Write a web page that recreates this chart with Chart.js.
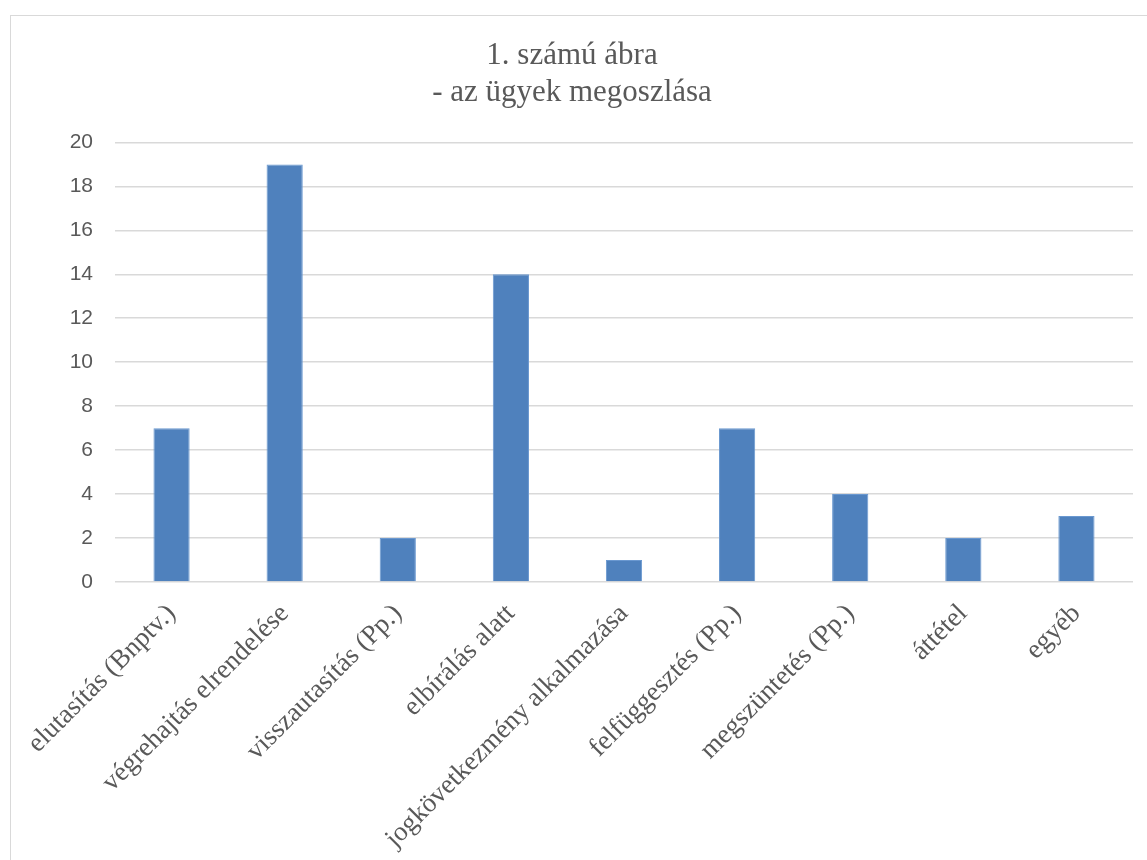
<!DOCTYPE html>
<html>
<head>
<meta charset="utf-8">
<script src="https://cdn.jsdelivr.net/npm/chart.js@4/dist/chart.umd.min.js"></script>
<style>
  html, body { margin: 0; padding: 0; background: #ffffff; overflow: hidden; }
  #wrap { position: absolute; left: 10px; top: 15px; width: 1137px; height: 845px; border: 1px solid #d9d9d9; background: #fff; }
  canvas { display: block; }
</style>
</head>
<body>
<div id="wrap"><canvas id="c"></canvas></div>
<script>
const titleLines = ['1. számú ábra', '- az ügyek megoszlása'];
const categories = [
  'elutasítás (Bnptv.)',
  'végrehajtás elrendelése',
  'visszautasítás (Pp.)',
  'elbírálás alatt',
  'jogkövetkezmény alkalmazása',
  'felfüggesztés (Pp.)',
  'megszüntetés (Pp.)',
  'áttétel',
  'egyéb'
];
const values = [7, 19, 2, 14, 1, 7, 4, 2, 3];
const yMin = 0, yMax = 20, yStep = 2;

new Chart(document.getElementById('c'), {
  type: 'bar',
  data: {
    labels: categories,
    datasets: [{
      data: values,
      backgroundColor: '#4f81bd',
      borderColor: '#6a98d0',
      borderWidth: 1,
      categoryPercentage: 1,
      barPercentage: 0.32
    }]
  },
  options: {
    responsive: true,
    maintainAspectRatio: false,
    devicePixelRatio: 1,
    animation: false,
    layout: { padding: { left: 0, right: 15, top: 0, bottom: 0 } },
    plugins: {
      legend: { display: false },
      tooltip: { enabled: false },
      title: {
        display: true,
        text: titleLines,
        color: '#595959',
        font: { family: 'Liberation Serif', size: 31, weight: 'normal', lineHeight: 1.2 },
        padding: { top: 21, bottom: 31 }
      }
    },
    scales: {
      x: {
        grid: { display: false },
        border: { display: false },
        ticks: {
          color: '#595959',
          font: { family: 'Liberation Serif', size: 27 },
          maxRotation: 45,
          minRotation: 45,
          autoSkip: false,
          padding: 8
        },
        afterFit: (s) => { s.height = 279; }
      },
      y: {
        min: yMin,
        max: yMax,
        border: { display: false },
        grid: { color: '#d9d9d9', lineWidth: 1.5, drawTicks: false },
        ticks: {
          stepSize: yStep,
          color: '#595959',
          font: { family: 'Liberation Sans', size: 21 },
          padding: 22
        },
        afterFit: (s) => { s.width = 104; }
      }
    }
  }
});
</script>
</body>
</html>
